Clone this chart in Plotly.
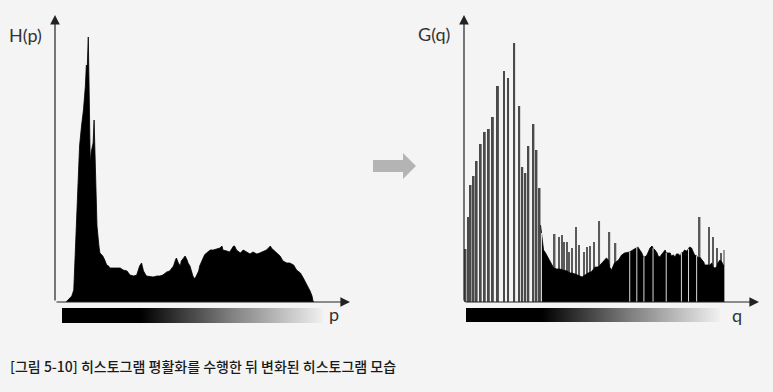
import numpy as np
import plotly.graph_objects as go

W, H = 773, 392
BG = "#f4f4f4"

# ---------------- data ----------------
# original histogram H(p): gray level p -> count (arbitrary units)
p_levels = [0, 2, 6, 8, 9, 11, 13, 14, 16, 18, 20, 21, 22, 23, 24, 25, 26, 27, 28, 29,
            30, 31, 32, 34, 35, 37, 38, 40, 42, 44, 45, 49, 52, 56, 59, 63, 66, 70, 73, 76,
            78, 80, 83, 87, 90, 94, 97, 100, 104, 107, 111, 113, 114, 116, 118, 119, 121, 123, 125, 126,
            128, 130, 131, 133, 135, 137, 138, 140, 142, 143, 145, 147, 149, 152, 156, 159, 161, 162, 166, 169,
            173, 174, 176, 180, 183, 187, 190, 193, 197, 200, 204, 207, 209, 211, 212, 214, 217, 221, 224, 228,
            231, 235, 238, 242, 245, 248, 252, 254, 255, 256]
h_counts = [0, 2, 6, 12, 36, 69, 116, 156, 176, 192, 216, 237, 236, 265, 205, 139, 150, 156, 159, 182,
            153, 116, 76, 56, 49, 47, 46, 42, 37, 36, 34, 34, 34, 34, 32, 31, 27, 26, 27, 36,
            39, 31, 26, 25, 25, 26, 26, 27, 30, 31, 36, 42, 44, 39, 36, 41, 44, 46, 42, 39,
            36, 29, 26, 23, 27, 31, 36, 41, 44, 47, 49, 51, 52, 52, 53, 54, 56, 52, 51, 50,
            56, 56, 52, 49, 52, 50, 48, 50, 48, 49, 51, 52, 54, 56, 54, 52, 49, 46, 41, 39,
            39, 37, 32, 29, 24, 19, 11, 6, 1, 0]

# equalized histogram G(q): isolated bars at the dark end
q_bar_levels = [0, 3, 5, 8, 11, 15, 19, 23, 27, 32, 38, 42, 48, 53, 56, 59, 62, 67, 70, 73]
q_bar_counts = [53, 85, 117, 126, 141, 158, 170, 173, 185, 216, 231, 224, 259, 196, 135, 129, 156, 178, 152, 114]

# equalized histogram G(q): dense part (envelope)
q_mass_levels = [74, 75, 76, 77, 79, 81, 82, 84, 86, 87, 90, 93, 96, 100, 103, 105, 108, 111, 115, 118,
                 121, 124, 128, 131, 134, 138, 139, 141, 142, 144, 146, 147, 151, 154, 157, 161, 162, 165, 169, 170,
                 172, 174, 175, 177, 179, 180, 182, 184, 185, 187, 189, 190, 192, 193, 195, 197, 198, 200, 202, 203,
                 205, 207, 208, 210, 212, 213, 215, 216, 218, 220, 221, 223, 225, 226, 228, 230, 231, 233, 235, 236,
                 238, 241, 243, 244, 246, 248, 249, 251, 253, 254, 255]
q_mass_counts = [77, 69, 59, 52, 49, 45, 43, 39, 35, 34, 33, 33, 32, 31, 29, 29, 28, 27, 25, 27,
                 29, 30, 35, 35, 38, 42, 44, 42, 35, 32, 37, 39, 42, 47, 49, 50, 50, 52, 55, 55,
                 52, 49, 46, 45, 47, 50, 54, 56, 54, 52, 49, 46, 45, 47, 50, 52, 49, 49, 49, 46,
                 47, 45, 48, 48, 46, 49, 50, 52, 51, 53, 55, 54, 49, 47, 46, 44, 45, 42, 40, 37,
                 37, 37, 39, 35, 34, 35, 39, 42, 40, 37, 37]

# equalized histogram G(q): bars standing above the dense part
q_spike_levels = [88, 92, 95, 97, 100, 102, 105, 109, 112, 117, 120, 123, 127, 132, 142, 148,
                  231, 240, 244, 248, 252]
q_spike_counts = [68, 65, 67, 60, 60, 50, 54, 75, 57, 50, 55, 56, 60, 81, 70, 59,
                  85, 75, 65, 54, 49]
q_last_level = [255]
q_last_count = [52]

# empty bins inside the dense part
q_empty_levels = [75, 162, 169, 176, 185, 198, 213, 220, 228]

gray_levels = np.arange(256)

# ---------------- helpers ----------------
def px(x):
    return x / W

def py(y):
    return 1 - y / H

fig = go.Figure()

# left histogram
fig.add_trace(go.Scatter(x=p_levels, y=h_counts, mode="lines", fill="tozeroy",
                         line=dict(width=0.8, color="#000"), fillcolor="#000",
                         xaxis="x", yaxis="y", hoverinfo="skip"))

# right histogram
fig.add_trace(go.Bar(x=q_bar_levels, y=q_bar_counts, width=1.9,
                     marker=dict(color="#4a4a4a", line=dict(width=0)),
                     xaxis="x2", yaxis="y2", hoverinfo="skip"))
fig.add_trace(go.Bar(x=q_spike_levels, y=q_spike_counts, width=1.5,
                     marker=dict(color="#5a5a5a", line=dict(width=0)),
                     xaxis="x2", yaxis="y2", hoverinfo="skip"))
fig.add_trace(go.Bar(x=q_last_level, y=q_last_count, width=1.2,
                     marker=dict(color="#9a9a9a", line=dict(width=0)),
                     xaxis="x2", yaxis="y2", hoverinfo="skip"))
fig.add_trace(go.Scatter(x=q_mass_levels, y=q_mass_counts, mode="lines", fill="tozeroy",
                         line=dict(width=0.8, color="#000"), fillcolor="#000",
                         xaxis="x2", yaxis="y2", hoverinfo="skip"))
gx, gy = [], []
for g in q_empty_levels:
    top = float(np.interp(g, q_mass_levels, q_mass_counts))
    gx += [g, g, None]
    gy += [0, top, None]
fig.add_trace(go.Scatter(x=gx, y=gy, mode="lines", line=dict(width=1, color="#d8d8d8"),
                         xaxis="x2", yaxis="y2", hoverinfo="skip"))

# gradient strips
cs = [[0, "#000000"], [0.3, "#000000"], [0.65, "#808080"], [1, "#f0f0f0"]]
fig.add_trace(go.Heatmap(z=[gray_levels], x=gray_levels, colorscale=cs, showscale=False,
                         xaxis="x3", yaxis="y3", hoverinfo="skip"))
fig.add_trace(go.Heatmap(z=[gray_levels], x=gray_levels, colorscale=cs, showscale=False,
                         xaxis="x4", yaxis="y4", hoverinfo="skip"))

# ---------------- axes ----------------
ydom = [py(302), py(15)]
hide = dict(visible=False, fixedrange=True)
lpp = (313 - 66) / 255
rpp = (724 - 465.5) / 255
fig.update_layout(
    xaxis=dict(domain=[px(55), px(350)], range=[-(66 - 55) / lpp, 255 + (350 - 313) / lpp], **hide),
    yaxis=dict(domain=ydom, range=[0, 287], **hide),
    xaxis2=dict(domain=[px(464), px(759)], range=[-(465.5 - 464) / rpp, 255 + (759 - 724) / rpp], **hide),
    yaxis2=dict(domain=ydom, range=[0, 287], **hide),
    xaxis3=dict(domain=[px(62), px(323)], range=[-0.5, 255.5], **hide),
    yaxis3=dict(domain=[py(323), py(308)], range=[-0.5, 0.5], **hide),
    xaxis4=dict(domain=[px(466), px(720)], range=[-0.5, 255.5], **hide),
    yaxis4=dict(domain=[py(322), py(308)], range=[-0.5, 0.5], **hide),
)

# axis arrows
ann = []
AX = dict(xref="paper", yref="paper", showarrow=True, arrowhead=2, arrowsize=1.6,
          arrowwidth=1.2, arrowcolor="#222", text="")
for x0, x1 in [(55, 350), (464, 759)]:
    ann.append(dict(x=px(x0), y=py(15), ax=0, ay=287, **AX))
    ann.append(dict(x=px(x1), y=py(302), ax=-(x1 - x0), ay=0, **AX))

lab_font = dict(family="Lato, Noto Sans, sans-serif", size=18, color="#333")
TXT = dict(showarrow=False, xref="paper", yref="paper", xanchor="center", yanchor="middle")
ann += [
    dict(x=px(26), y=py(35), text="H(p)", font=lab_font, **TXT),
    dict(x=px(434), y=py(34), text="G(q)", font=lab_font, **TXT),
    dict(x=px(334), y=py(314), text="p", font=lab_font, **TXT),
    dict(x=px(737), y=py(315), text="q", font=lab_font, **TXT),
    dict(x=px(8), y=py(366), xanchor="left", yanchor="middle",
         text="[그림 5-10] 히스토그램 평활화를 수행한 뒤 변화된 히스토그램 모습",
         showarrow=False, xref="paper", yref="paper",
         font=dict(family="Noto Sans CJK KR", size=14, color="#1a1a1a", weight=500)),
]

# grey arrow between the charts
pts = [(373, 160), (403, 160), (403, 153), (416, 166), (403, 179), (403, 172), (373, 172)]
path = "M " + " L ".join(f"{px(a):.5f},{py(b):.5f}" for a, b in pts) + " Z"
fig.update_layout(shapes=[dict(type="path", path=path, xref="paper", yref="paper",
                               fillcolor="#b4b4b4", line=dict(width=0))])

fig.update_layout(width=W, height=H, margin=dict(l=0, r=0, t=0, b=0),
                  paper_bgcolor=BG, plot_bgcolor="rgba(0,0,0,0)", showlegend=False,
                  barmode="overlay", annotations=ann)

fig.write_html("out.html", config={"displayModeBar": False},
               post_script="document.body.style.margin='0';document.body.style.overflow='hidden';"
                           "document.body.style.background='" + BG + "';")
